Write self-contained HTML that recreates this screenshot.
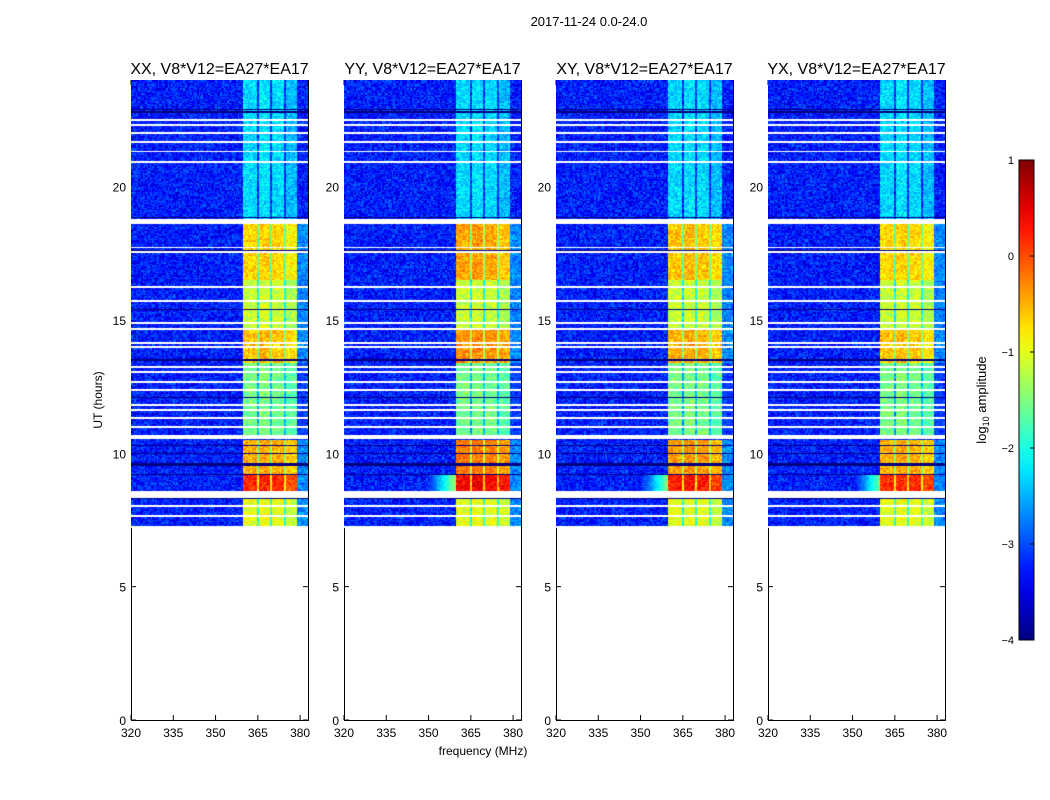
<!DOCTYPE html>
<html><head><meta charset="utf-8">
<style>
body{margin:0;background:#fff;width:1050px;height:800px;overflow:hidden;font-family:"Liberation Sans",sans-serif;}
#root{position:relative;width:1050px;height:800px;}
canvas{position:absolute;}
</style></head><body>
<div id="root">
<svg id="svg" width="1050" height="800" style="position:absolute;left:0;top:0"></svg>
</div>
<script>
// ---- data ----
const panelTitles = ["XX, V8*V12=EA27*EA17","YY, V8*V12=EA27*EA17","XY, V8*V12=EA27*EA17","YX, V8*V12=EA27*EA17"];
const panelLeft = [131,344,556,768];
const xTicks = [320,335,350,365,380];
const yTicks = [0,5,10,15,20];
const cbTicks = [1,0,-1,-2,-3,-4];
// time segments [start hr, end hr, band log-amplitude]
const segStart = [7.2, 8.6, 9.2, 10.7, 13.4, 14.7, 16.5, 18.8];
const segEnd   = [8.3, 9.2, 10.5, 13.4, 14.7, 16.5, 18.6, 24.0];
const segLevel = [-1.0, 0.15, -0.5, -1.55, -0.6, -1.15, -0.7, -2.3];
// per-panel gain on the bright band
const panelBoost = [0.0, 0.25, 0.1, 0.0];
// frequency sub-bands [start MHz, end MHz, offset]
const fbStart = [359.7, 364.6, 365.3, 369.3, 370.0, 374.3, 375.0, 378.9];
const fbEnd   = [364.6, 365.3, 369.3, 370.0, 374.3, 375.0, 378.9, 383.0];
const fbOff   = [0.0, -1.0, 0.05, -0.9, 0.0, -0.9, -0.15, -1.0];
const bgLevel = -3.25;
// flagged (white) rows [hr, thickness hr]
const flagHr = [22.50,22.31,22.01,21.67,21.33,20.92,18.70,17.73,17.55,16.24,15.71,14.89,14.66,14.14,13.99,13.24,13.05,12.67,12.37,11.81,11.62,11.32,10.99,10.60,8.45,8.02,7.65,7.24];
const flagW  = [0.05,0.05,0.05,0.05,0.05,0.05,0.18,0.05,0.05,0.05,0.05,0.05,0.05,0.05,0.05,0.05,0.05,0.05,0.05,0.05,0.05,0.05,0.05,0.15,0.25,0.05,0.05,0.05];
// dark (zero) rows
const darkHr = [22.9,22.8,18.85,17.6,15.4,13.5,12.1,10.55,10.3,10.0,9.6,9.55,9.2,8.4,8.3];
</script>
<script>
const NS="http://www.w3.org/2000/svg";
const svg=document.getElementById('svg');
const root=document.getElementById('root');
const PT=80,PB=720,PW=177;
const xmin=320,xmax=382.8,ymin=0,ymax=24;
function xs(f,l){return l+(f-xmin)/(xmax-xmin)*PW;}
function ys(h){return PB-(h-ymin)/(ymax-ymin)*(PB-PT);}
function jet(v){
  const r=Math.min(Math.max(Math.min(4*v-1.5,-4*v+4.5),0),1);
  const g=Math.min(Math.max(Math.min(4*v-0.5,-4*v+3.5),0),1);
  const b=Math.min(Math.max(Math.min(4*v+0.5,-4*v+2.5),0),1);
  return [r*255|0,g*255|0,b*255|0];
}
function hash(a,b,c){let h=(a*374761393+b*668265263+c*2147483647)|0;h=(h^(h>>>13))*1274126177|0;return ((h^(h>>>16))>>>0)/4294967296;}
function mk(tag,attrs,name,parent){const e=document.createElementNS(NS,tag);for(const k in attrs)e.setAttribute(k,attrs[k]);
  
  
  (parent||svg).appendChild(e);return e;}
function txt(x,y,s,size,anchor,name,rot){const e=mk('text',{x:x,y:y,'font-size':size,'text-anchor':anchor||'middle','font-family':'Liberation Sans, sans-serif'},name);
  if(rot)e.setAttribute('transform','rotate(-90 '+x+' '+y+')');e.textContent=s;return e;}

panelTitles.forEach((title,p)=>{
  const L=panelLeft[p];
  const cv=document.createElement('canvas');cv.width=PW;cv.height=PB-PT;
  cv.style.left=L+'px';cv.style.top=PT+'px';
  
  
  root.appendChild(cv);
  const ctx=cv.getContext('2d');const img=ctx.createImageData(PW,PB-PT);
  for(let py=0;py<PB-PT;py++){
    const h=ymax-(py+0.5)/(PB-PT)*(ymax-ymin);
    if(h<segStart[0])continue;
    let lvl=null;for(let s=0;s<segStart.length;s++)if(h>=segStart[s]&&h<segEnd[s])lvl=segLevel[s]+(segLevel[s]>-1.0?panelBoost[p]:0);
    let flag=false;for(let i=0;i<flagHr.length;i++)if(Math.abs(h-flagHr[i])<flagW[i]/2)flag=true;
    let dark=false;for(let i=0;i<darkHr.length;i++)if(Math.abs(h-darkHr[i])<0.03)dark=true;
    const row=Math.floor(py/1.3);
    for(let px=0;px<PW;px++){
      const idx=(py*PW+px)*4;
      if(flag){img.data[idx]=255;img.data[idx+1]=255;img.data[idx+2]=255;img.data[idx+3]=255;continue;}
      const f=xmin+(px+0.5)/PW*(xmax-xmin);
      const col=Math.floor(px/1.4);
      let v=bgLevel+(hash(col,row,p)-0.5)*0.8;
      if(lvl!==null){
        for(let b=0;b<fbStart.length;b++)if(f>=fbStart[b]&&f<fbEnd[b]){
          let bv=lvl+fbOff[b];
          if(b===fbStart.length-1)bv=Math.min(lvl-1.6,-2.7);
          v=Math.max(v,bv+(hash(col,row,p+7)-0.5)*0.6);
        }
        if(p>0&&lvl>0&&f<359.7&&f>350){const sv=lvl-1.7-(359.7-f)*0.2;v=Math.max(v,sv+(hash(col,row,p+3)-0.5)*0.3);}
      }
      if(dark)v=-4.2;
      const t=Math.min(Math.max((v+4)/5,0),1);const c=jet(t);
      img.data[idx]=c[0];img.data[idx+1]=c[1];img.data[idx+2]=c[2];img.data[idx+3]=255;
    }
  }
  ctx.putImageData(img,0,0);
  mk('rect',{x:L+0.5,y:PT+0.5,width:PW,height:PB-PT,fill:'none',stroke:'#000','stroke-width':1},'panel-frame-'+(p+1));
  xTicks.forEach(v=>{const x=xs(v,L);
    mk('line',{x1:x,x2:x,y1:PB,y2:PB-5,stroke:'#000'},'x-tick');
    mk('line',{x1:x,x2:x,y1:PT,y2:PT+5,stroke:'#000'},'x-tick-top');
    txt(x,PB+17,String(v),12,'middle','x-tick-label');});
  yTicks.forEach(v=>{const y=ys(v);
    mk('line',{x1:L,x2:L+5,y1:y,y2:y,stroke:'#000'},'y-tick');
    mk('line',{x1:L+PW,x2:L+PW-5,y1:y,y2:y,stroke:'#000'},'y-tick-right');
    txt(L-5,y+5,String(v),12,'end','y-tick-label');});
  txt(L+PW/2,74,title,16,'middle','panel-title-'+(p+1));
});
txt(589,26,'2017-11-24 0.0-24.0',13,'middle','figure-title');
txt(483,755,'frequency (MHz)',12,'middle','x-axis-title');
txt(102,400,'UT (hours)',12,'middle','y-axis-title',true);
const cbL=1019,cbT=160,cbB=640,cbW=15;
const defs=mk('defs',{},'defs');
const lg=mk('linearGradient',{id:'jetg',x1:0,y1:1,x2:0,y2:0},'colorbar-gradient',defs);
for(let i=0;i<=20;i++){const c=jet(i/20);mk('stop',{offset:i/20,'stop-color':'rgb('+c.join(',')+')'},'gradient-stop',lg);}
mk('rect',{x:cbL,y:cbT,width:cbW,height:cbB-cbT,fill:'url(#jetg)',stroke:'#000'},'colorbar');
cbTicks.forEach(v=>{const y=cbB-(v+4)/5*(cbB-cbT);
  mk('line',{x1:cbL+cbW,x2:cbL+cbW-4,y1:y,y2:y,stroke:'#000'},'colorbar-tick');
  txt(cbL-5,y+4,v<0?'\u2212'+(-v):String(v),11,'end','colorbar-tick-label');});
const cl=txt(986,400,'',13,'middle','colorbar-label',true);
cl.innerHTML='log<tspan font-size="9" dy="3">10</tspan><tspan dy="-3"> amplitude</tspan>';
</script>
</body></html>
